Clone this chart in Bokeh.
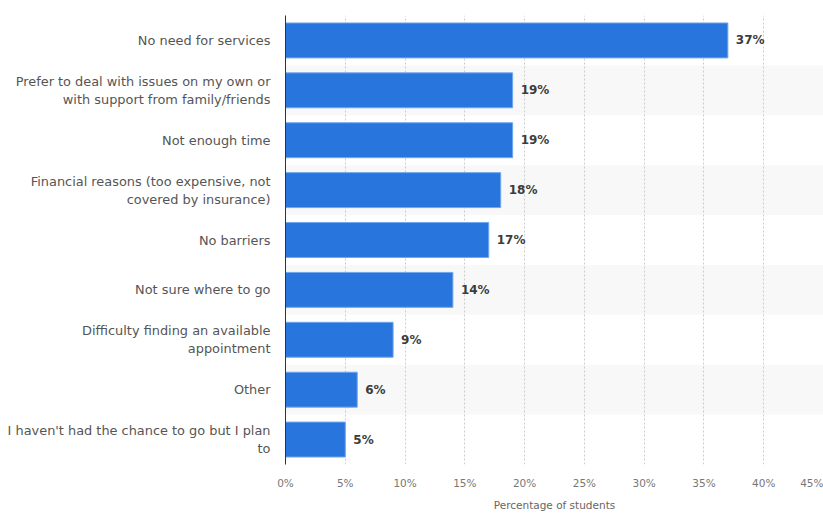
from bokeh.plotting import figure
from bokeh.models import FactorRange, Range1d, FixedTicker, ColumnDataSource
from bokeh.core.properties import value
from bokeh.embed import file_html
from bokeh.resources import INLINE

categories = [
    "No need for services",
    "Prefer to deal with issues on my own or\nwith support from family/friends",
    "Not enough time",
    "Financial reasons (too expensive, not\ncovered by insurance)",
    "No barriers",
    "Not sure where to go",
    "Difficulty finding an available\nappointment",
    "Other",
    "I haven't had the chance to go but I plan\nto",
]
values = [37, 19, 19, 18, 17, 14, 9, 6, 5]
x_ticks = [0, 5, 10, 15, 20, 25, 30, 35, 40, 45]
x_max = 45
x_title = "Percentage of students"

FONT = "DejaVu Sans"

p = figure(
    width=823, height=513,
    y_range=FactorRange(factors=list(reversed(categories)), range_padding=0),
    x_range=Range1d(0, x_max),
    output_backend="svg", toolbar_location=None,
    min_border_left=285, min_border_right=0, min_border_top=15, min_border_bottom=49,
)
p.outline_line_color = None
p.background_fill_color = "white"

# alternating row bands
band_cats = [c for i, c in enumerate(categories) if i % 2 == 1]
p.hbar(y=band_cats, left=0, right=x_max, height=1.0, color="#f8f8f8", line_color=None, level="underlay")

src = ColumnDataSource(dict(
    cat=categories, val=values, lab=[f"{v}%" for v in values]
))
p.hbar(y="cat", right="val", left=0, height=0.7, source=src,
       fill_color="#2876dd", line_color="#6ea6ee", line_width=1)
p.text(x="val", y="cat", text="lab", source=src, x_offset=8,
       text_font=value(FONT), text_font_style="bold", text_font_size="12px",
       text_color="#3c3c3c", text_baseline="middle", text_align="left")

# axes
p.xaxis.ticker = FixedTicker(ticks=x_ticks)
p.xaxis.major_label_overrides = {t: f"{t}%" for t in x_ticks}
p.xaxis.axis_line_color = None
p.xaxis.major_tick_line_color = None
p.xaxis.minor_tick_line_color = None
p.xaxis.major_tick_in = 0
p.xaxis.major_tick_out = 0
p.xaxis.major_label_text_font = FONT
p.xaxis.major_label_text_font_size = "10.5px"
p.xaxis.major_label_text_color = "#777777"
p.xaxis.major_label_standoff = 12
p.xaxis.axis_label = x_title
p.xaxis.axis_label_text_font = FONT
p.xaxis.axis_label_text_font_size = "10.5px"
p.xaxis.axis_label_text_font_style = "normal"
p.xaxis.axis_label_text_color = "#666666"
p.xaxis.axis_label_standoff = 7

p.yaxis.axis_line_color = "#333333"
p.yaxis.axis_line_width = 1
p.yaxis.major_tick_line_color = None
p.yaxis.minor_tick_line_color = None
p.yaxis.major_tick_in = 0
p.yaxis.major_tick_out = 0
p.yaxis.major_label_text_font = FONT
p.yaxis.major_label_text_font_size = "12.9px"
p.yaxis.major_label_text_color = "#555555"
p.yaxis.major_label_standoff = 15

p.ygrid.grid_line_color = None
p.xgrid.grid_line_color = "#cccccc"
p.xgrid.grid_line_dash = "2 2"
p.xgrid.grid_line_width = 1

open("out.html", "w").write(file_html(p, INLINE))
